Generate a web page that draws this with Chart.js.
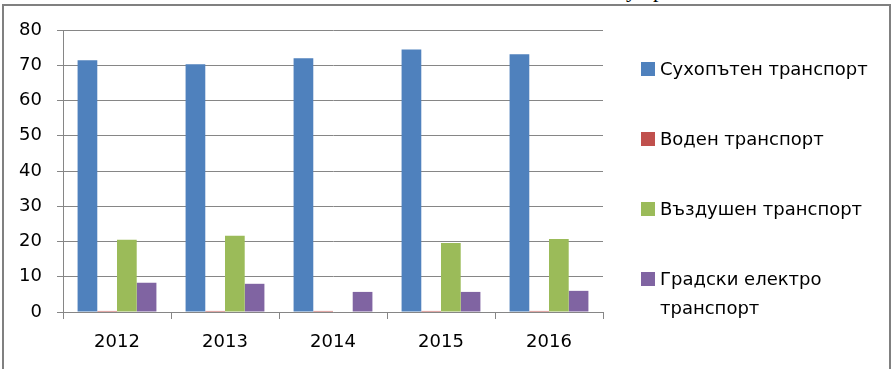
<!DOCTYPE html>
<html>
<head>
<meta charset="utf-8">
<script src="https://cdn.jsdelivr.net/npm/chart.js@4/dist/chart.umd.min.js"></script>
<style>
  body { margin: 0; width: 895px; height: 369px; overflow: hidden; background: #fff; position: relative; }
  #frame { position: absolute; left: 2px; top: 4px; width: 885px; height: 400px; border: 2px solid #808080; border-bottom: none; }
  #above { position: absolute; left: 626px; top: -20px; font: 22px "Liberation Serif", serif; line-height: 20px; letter-spacing: 16px; color: #000; }
  #myChart { position: absolute; left: 0; top: 0; }
  #legend { position: absolute; left: 641px; top: 54px; font: 18px "DejaVu Sans", sans-serif; line-height: 29px; color: #000; }
  .item { display: flex; height: 70px; }
  .box { width: 14px; height: 14px; margin-top: 7.5px; margin-right: 5px; flex: none; }
  .txt { width: 220px; }
</style>
</head>
<body>
<div id="above">ур</div>
<div id="frame"></div>
<canvas id="myChart" width="895" height="369"></canvas>
<div id="legend"></div>
<script>
// years on the x axis
var years = ['2012', '2013', '2014', '2015', '2016'];

// series names
var names = ['Сухопътен транспорт', 'Воден транспорт', 'Въздушен транспорт', 'Градски електро транспорт'];

// values
var land  = [71.4, 70.3, 72.0, 74.5, 73.1];
var water = [0.3, 0.3, 0.3, 0.3, 0.3];
var air   = [20.5, 21.6, 0, 19.6, 20.7];
var city  = [8.3, 8.0, 5.7, 5.7, 6.0];

var colors = ['#4F81BD', '#C0504D', '#9BBB59', '#8064A2'];

function drawChart(){
    var series = [land, water, air, city];
    var data = {
        labels: years,
        datasets: series.map(function(vals, i){
            return {
                label: names[i],
                data: vals,
                backgroundColor: colors[i],
                borderWidth: 0,
                categoryPercentage: 0.73,
                barPercentage: 1.0
            };
        })
    };

    var font = { family: 'DejaVu Sans', size: 18 };
    var grey = '#868686';

    var ctx = document.getElementById('myChart').getContext('2d');
    new Chart(ctx, {
        type: 'bar',
        data: data,
        options: {
            responsive: false,
            animation: false,
            devicePixelRatio: 1,
            layout: { padding: { top: 30, right: 292, left: 0, bottom: 0 } },
            plugins: { legend: { display: false }, tooltip: { enabled: false } },
            scales: {
                x: {
                    grid: { drawOnChartArea: false, offset: true, tickLength: 7, color: grey },
                    border: { color: grey },
                    ticks: { font: font, color: '#000', padding: 13 },
                    afterFit: function(s){ s.height = 57; }
                },
                y: {
                    min: 0,
                    max: 80,
                    grid: { color: grey, tickLength: 6 },
                    border: { color: grey },
                    ticks: { stepSize: 10, font: font, color: '#000', padding: 15 },
                    afterFit: function(s){ s.width = 63; }
                }
            }
        }
    });

    // html legend on the right
    var leg = document.getElementById('legend');
    names.forEach(function(n, i){
        var item = document.createElement('div');
        item.className = 'item';
        var box = document.createElement('span');
        box.className = 'box';
        box.style.background = colors[i];
        var txt = document.createElement('span');
        txt.className = 'txt';
        txt.textContent = n;
        item.appendChild(box);
        item.appendChild(txt);
        leg.appendChild(item);
    });
}

drawChart();
</script>
</body>
</html>
